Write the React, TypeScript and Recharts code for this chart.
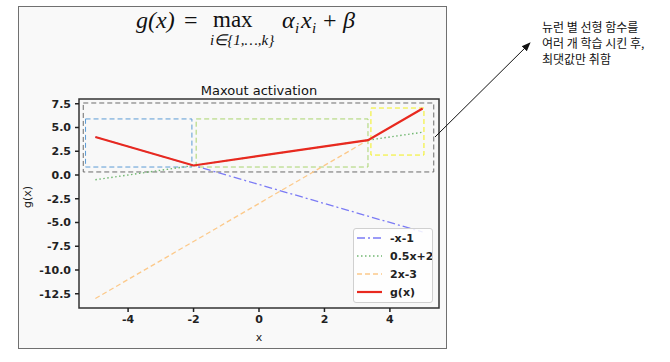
import React from "react";
import {
  LineChart,
  Line,
  XAxis,
  YAxis,
  CartesianGrid,
  ReferenceArea,
} from "recharts";

// sample positions along x, and each linear piece
const xValues = [-5, -2, 3.33, 5];
const negXMinus1 = [4, 1, -4.33, -6];
const halfXPlus2 = [-0.5, 1, 3.67, 4.5];
const twoXMinus3 = [-13, -7, 3.67, 7];
const gOfX = [4, 1, 3.67, 7];

const xTicks = [-4, -2, 0, 2, 4];
const yTicks = [-12.5, -10, -7.5, -5, -2.5, 0, 2.5, 5, 7.5];

// dashed highlight boxes: [x1, x2, y1, y2]
const boxAll = [-5.37, 5.34, 0.32, 7.58];
const boxLeft = [-5.3, -2.05, 0.84, 5.9];
const boxMid = [-1.92, 3.33, 0.84, 5.9];
const boxRight = [3.42, 5.04, 2.1, 7.05];

const noteLines = ["뉴런 별 선형 함수를", "여러 개 학습 시킨 후,", "최댓값만 취함"];

const data = xValues.map((x, i) => ({
  x,
  a: negXMinus1[i],
  b: halfXPlus2[i],
  c: twoXMinus3[i],
  g: gOfX[i],
}));

const series = [
  { key: "a", name: "-x-1", color: "#7b7bf5", dash: "8 3 2 3", width: 1.3 },
  { key: "b", name: "0.5x+2", color: "#72b872", dash: "1.5 2.5", width: 1.4 },
  { key: "c", name: "2x-3", color: "#fcc98a", dash: "5 3", width: 1.3 },
  { key: "g", name: "g(x)", color: "#e8291f", dash: undefined, width: 2.2 },
];

const tickStyle = {
  fontFamily: "DejaVu Sans",
  fontSize: 11,
  fontWeight: 700,
  fill: "#222",
};

function LegendBox() {
  return (
    <div
      style={{
        position: "absolute",
        left: 353,
        top: 228,
        width: 80,
        height: 75,
        boxSizing: "border-box",
        border: "1px solid #d0d0d0",
        borderRadius: 3,
        background: "rgba(255,255,255,0.85)",
      }}
    >
      <svg width={78} height={73} style={{ display: "block" }}>
        {series.map((s, i) => (
          <g key={s.key}>
            <line
              x1={3}
              x2={28}
              y1={9 + i * 18}
              y2={9 + i * 18}
              stroke={s.color}
              strokeWidth={s.width}
              strokeDasharray={s.dash}
            />
            <text
              x={36}
              y={13 + i * 18}
              style={{ ...tickStyle, fontWeight: 600 }}
            >
              {s.name}
            </text>
          </g>
        ))}
      </svg>
    </div>
  );
}

function Box({ b, color }: { b: number[]; color: string }) {
  return (
    <ReferenceArea
      x1={b[0]}
      x2={b[1]}
      y1={b[2]}
      y2={b[3]}
      fill="none"
      stroke={color}
      strokeWidth={1}
      strokeDasharray="5 3"
      ifOverflow="visible"
    />
  );
}

export default function App() {
  return (
    <div
      style={{
        position: "absolute",
        left: 0,
        top: 0,
        width: 670,
        height: 362,
        background: "#fff",
      }}
    >
      <div
        style={{
          position: "absolute",
          left: 18,
          top: 6,
          width: 429,
          height: 343,
          boxSizing: "border-box",
          border: "1px solid #707070",
          background: "#f9f9f9",
        }}
      />
      <div style={{ position: "absolute", left: 0, top: 0 }}>
        <LineChart
          width={670}
          height={362}
          data={data}
          margin={{ top: 99, right: 231, bottom: 24, left: 24 }}
        >
          <CartesianGrid
            horizontal={false}
            vertical={false}
            fill="#f8f8f8"
          />
          <XAxis
            dataKey="x"
            type="number"
            domain={[-5.5, 5.5]}
            ticks={xTicks}
            interval={0}
            allowDataOverflow
            axisLine={false}
            tickSize={4}
            tickMargin={3}
            tickLine={{ stroke: "#222", strokeWidth: 1.5 }}
            tick={tickStyle}
            height={30}
          />
          <YAxis
            type="number"
            domain={[-14, 8]}
            ticks={yTicks}
            interval={0}
            allowDataOverflow
            axisLine={false}
            tickSize={4}
            tickMargin={4}
            tickLine={{ stroke: "#222", strokeWidth: 1.5 }}
            tick={tickStyle}
            tickFormatter={(v: number) => v.toFixed(1)}
            width={55}
          />
          {series.map((s) => (
            <Line
              key={s.key}
              dataKey={s.key}
              name={s.name}
              type="linear"
              stroke={s.color}
              strokeWidth={s.width}
              strokeDasharray={s.dash}
              dot={false}
              activeDot={false}
              isAnimationActive={false}
            />
          ))}
          {Box({ b: boxAll, color: "#6b6b6b" })}
          {Box({ b: boxLeft, color: "#5b9bd5" })}
          {Box({ b: boxMid, color: "#a9d46e" })}
          {Box({ b: boxRight, color: "#f2f01a" })}
          <ReferenceArea
            x1={-5.5}
            x2={5.5}
            y1={-14}
            y2={8}
            fill="none"
            stroke="#333"
            strokeWidth={1.5}
            ifOverflow="visible"
          />
        </LineChart>
      </div>
      <LegendBox />
      <svg
        width={670}
        height={362}
        style={{ position: "absolute", left: 0, top: 0, pointerEvents: "none" }}
      >
        <defs>
          <marker
            id="arrowHead"
            viewBox="0 0 10 10"
            refX={9}
            refY={5}
            markerWidth={9}
            markerHeight={9}
            orient="auto"
          >
            <path d="M0,1 L10,5 L0,9 Z" fill="#111" />
          </marker>
        </defs>
        {/* formula above the plot */}
        <g fontFamily="Liberation Serif" fill="#111">
          <text x={136} y={28} fontSize={24} fontStyle="italic">
            g(x)
          </text>
          <text x={184} y={28} fontSize={24}>
            =
          </text>
          <text x={213} y={27} fontSize={23}>
            max
          </text>
          <text x={210} y={45} fontSize={15} fontStyle="italic">
            i∈{"{1,…,"}k{"}"}
          </text>
          <text x={282} y={28} fontSize={24} fontStyle="italic">
            α
          </text>
          <text x={295} y={33} fontSize={15} fontStyle="italic">
            i
          </text>
          <text x={301} y={28} fontSize={24} fontStyle="italic">
            x
          </text>
          <text x={312} y={33} fontSize={15} fontStyle="italic">
            i
          </text>
          <text x={323} y={28} fontSize={24}>
            +
          </text>
          <text x={343} y={28} fontSize={24} fontStyle="italic">
            β
          </text>
        </g>
        <text
          x={259}
          y={95}
          textAnchor="middle"
          fontFamily="DejaVu Sans"
          fontSize={13}
          fill="#111"
        >
          Maxout activation
        </text>
        <text
          x={259}
          y={341}
          textAnchor="middle"
          fontFamily="DejaVu Sans"
          fontSize={11}
          fill="#222"
        >
          x
        </text>
        <text
          transform="translate(31,197) rotate(-90)"
          textAnchor="middle"
          fontFamily="DejaVu Sans"
          fontSize={11}
          fill="#222"
        >
          g(x)
        </text>
        <line
          x1={435}
          y1={137}
          x2={530}
          y2={43}
          stroke="#111"
          strokeWidth={1}
          markerEnd="url(#arrowHead)"
        />
        {noteLines.map((t, i) => (
          <text
            key={t}
            x={542}
            y={32 + i * 16}
            fontFamily="Noto Sans CJK KR"
            fontSize={12}
            fill="#111"
          >
            {t}
          </text>
        ))}
      </svg>
    </div>
  );
}
